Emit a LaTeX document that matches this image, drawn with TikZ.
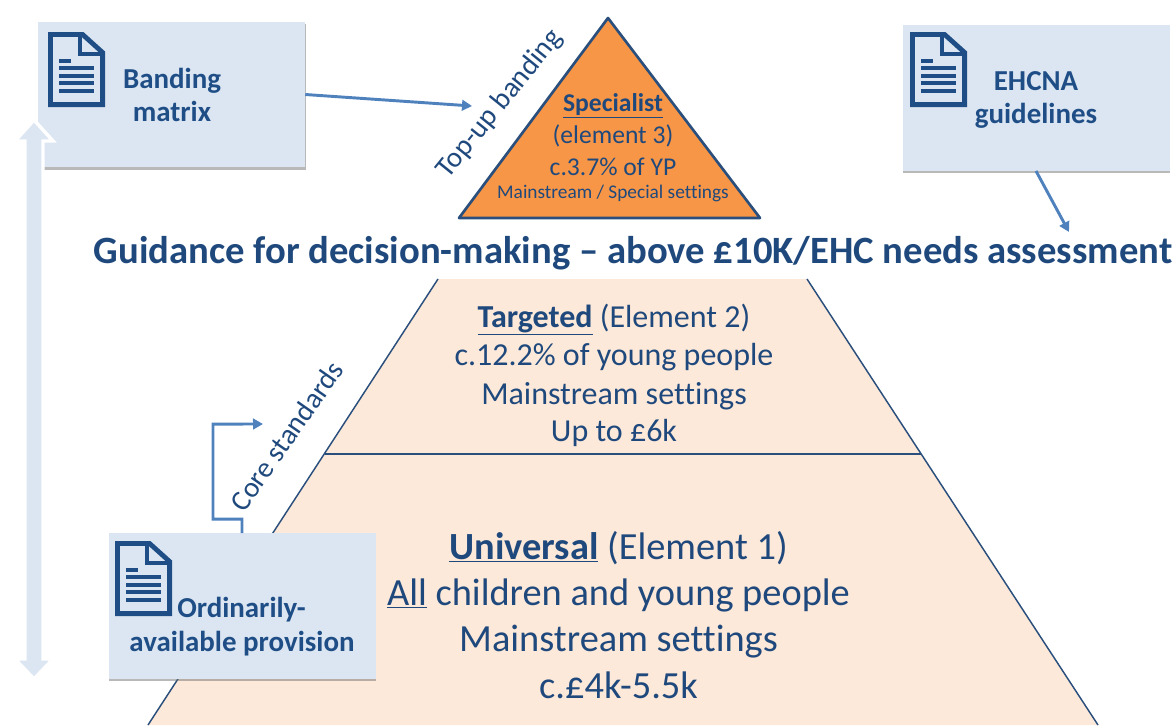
\documentclass[tikz,border=0pt]{standalone}
\usepackage{fontspec}
\setmainfont[Ligatures={NoCommon,TeX}]{Carlito}
\usetikzlibrary{arrows.meta,shadows}
\definecolor{navy}{HTML}{1F497D}
\definecolor{docblue}{HTML}{1F4E86}
\definecolor{boxblue}{HTML}{DCE6F2}
\definecolor{linkblue}{HTML}{4F81BD}
\definecolor{peach}{HTML}{FDE9D9}
\definecolor{orangefill}{HTML}{F79646}
\definecolor{pyrline}{HTML}{2A4F7C}
\newcommand{\fs}[1]{\fontsize{#1}{#1}\selectfont}
\tikzset{
  x=0.75pt,y=-0.75pt,
  docbox/.style={fill=boxblue,draw=none,minimum width=200.25pt,minimum height=109pt,inner sep=0pt,
     drop shadow={shadow xshift=0.5pt,shadow yshift=-1.8pt,opacity=.5,fill=black!55}},
  doclabel/.style={font=\fs{21.7}\bfseries,text=docblue,align=center,inner sep=0pt},
  link/.style={draw=linkblue,line width=2.2pt,-{Triangle[length=7.5pt,width=8pt]}},
  body/.style={text=navy,align=center,inner sep=0pt},
  slanted/.style={text=navy,inner sep=0pt,font=\fs{21.6}},
  pics/docicon/.style={code={
    \draw[draw=docblue,line width=3.6pt,miter limit=10,line join=miter]
      (2.4,2.4) -- (34.5,2.4) -- (54.6,20.5) -- (54.6,72.6) -- (2.4,72.6) -- cycle;
    \draw[draw=docblue,line width=3.6pt] (32,2.4) -- (32,22) -- (54,22);
    \draw[docblue,line width=2.7pt] (11,29) -- (23,29);
    \foreach \yy in {36,44,51,59}{\draw[docblue,line width=2.7pt] (11,\yy) -- (46,\yy);}
  }}
}
\begin{document}
\begin{tikzpicture}
\useasboundingbox (0,0) rectangle (1174,725);
% pyramid body
\fill[peach] (438,279) -- (807,279) -- (1098,725) -- (148,725) -- (325,454) -- cycle;
\draw[pyrline,line width=1.1pt] (438,279) -- (148,725);
\draw[pyrline,line width=1.1pt] (807,279) -- (1098,725);
\draw[pyrline,line width=2pt] (325,454) -- (921,454);
% top triangle
\draw[pyrline,line width=2pt,fill=orangefill,line join=round] (608,18) -- (760,218) -- (459,218) -- cycle;
% boxes
\node[docbox] (bandbox) at (171.5,94.5) {};
\node[docbox] (opbox) at (242,606) {};
\node[docbox] (ehcbox) at (1036,98) {};
% double arrow
\draw[white,line width=2.6pt,fill=boxblue,miter limit=10] (34,120) -- (53,141) -- (43,141) -- (43,659) -- (53,659) -- (34,679) -- (15,659) -- (25,659) -- (25,141) -- (15,141) -- cycle;
\pic at (48,32) {docicon};
\pic at (115,541) {docicon};
\pic at (910,32) {docicon};
\node[doclabel] (bandlbl) at (172,95) {Banding\\[3.5pt]matrix};
\node[doclabel] (ehclbl) at (1036,100) {EHCNA\\[3.5pt]guidelines};
\node[doclabel,anchor=west] (oplbl1) at (177,610) {Ordinarily-};
\node[doclabel] (oplbl2) at (242,644) {available provision};
% triangle text
\node[body,font=\fs{19.2}\bfseries] (sp) at (613,106) {\underline{Specialist}};
\node[body,font=\fs{19.2}] (el3) at (613,136) {(element 3)};
\node[body,font=\fs{19.2}] (yp) at (613,167) {c.3.7\% of YP};
\node[body,font=\fs{14.5}] (ms) at (613,193) {Mainstream / Special settings};
% heading
\node[text=navy,font=\fs{29}\bfseries,inner sep=0pt] (head) at (633,253.5) {Guidance for decision-making – above £10K/EHC needs assessment};
% targeted
\node[body,font=\fs{24}] (t1) at (614,319.5) {\textbf{\underline{Targeted}} (Element 2)};
\node[body,font=\fs{24}] (t2) at (614,357.5) {c.12.2\% of young people};
\node[body,font=\fs{24}] (t3) at (614,396) {Mainstream settings};
\node[body,font=\fs{24}] (t4) at (614,433) {Up to £6k};
% universal
\node[body,font=\fs{28.8}] (u1) at (618.5,548) {\textbf{\underline{Universal}} (Element 1)};
\node[body,font=\fs{28.8}] (u2) at (618.5,595) {\underline{All} children and young people};
\node[body,font=\fs{28.8}] (u3) at (618.5,642) {Mainstream settings};
\node[body,font=\fs{28.8}] (u4) at (618.5,685) {c.£4k-5.5k};
% slanted
\node[slanted,rotate=51] (topup) at (500,104) {Top-up banding};
\node[slanted,rotate=55] (core) at (286.5,436) {Core standards};
% connectors
\coordinate (bandend) at (472,106);
\coordinate (ehcend) at (1069,232);
\coordinate (coreend) at (263,424);
\draw[link] (bandbox.east) -- (bandend);
\draw[link] (ehcbox.south) -- (ehcend);
\draw[link,line join=miter] (opbox.north) -- ++(0,-14) -- ++(-29,0) -- ++(0,-95) -- (coreend);
\end{tikzpicture}
\end{document}
